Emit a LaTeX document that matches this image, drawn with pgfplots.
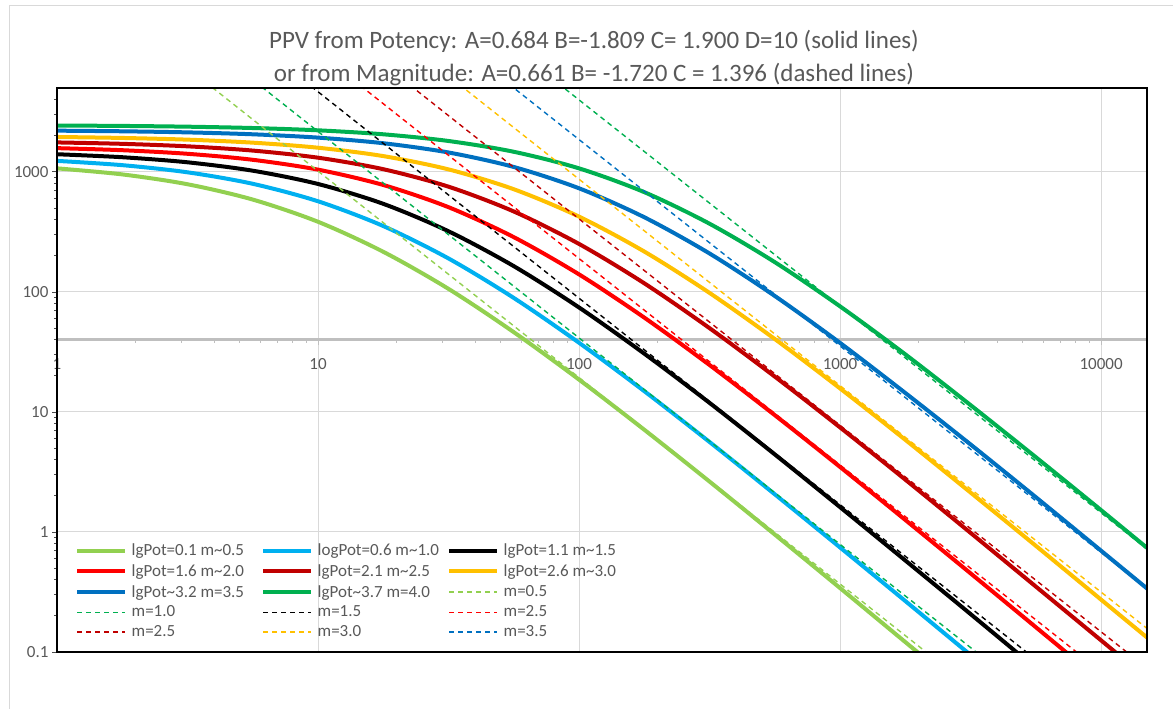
\documentclass[border=0pt]{standalone}
\usepackage{fontspec}
\setmainfont{Carlito}
\usepackage{pgfplots}
\pgfplotsset{compat=1.18}
\definecolor{txtgray}{HTML}{595959}
\definecolor{gridgray}{HTML}{D9D9D9}
\definecolor{axgray}{HTML}{BFBFBF}
\definecolor{xlgreen}{HTML}{92D050}
\definecolor{xlblue}{HTML}{00B0F0}
\definecolor{xlred}{HTML}{FF0000}
\definecolor{xldred}{HTML}{C00000}
\definecolor{xlyellow}{HTML}{FFC000}
\definecolor{xldblue}{HTML}{0070C0}
\definecolor{xlgreen2}{HTML}{00B050}

\begin{document}
\begin{tikzpicture}
\useasboundingbox (-57pt,-57pt) rectangle (1116pt,652pt);
\draw[gridgray, line width=0.8pt] (-48pt,-57pt) -- (-48pt,647pt) -- (1116pt,647pt);
\begin{axis}[
  scale only axis, width=1090pt, height=564pt,
  xmode=log, ymode=log,
  xmin=1, xmax=15000, ymin=0.1, ymax=5000,
  axis x line*=bottom, axis y line*=left,
  axis x line shift=-312pt,
  x axis line style={axgray, line width=3pt},
  y axis line style={black, line width=2pt},
  xtick={1,10,100,1000,10000}, xticklabels={1,10,100,1000,10000},
  ytick={0.1,1,10,100,1000}, yticklabels={0.1,1,10,100,1000},
  minor xtick={2,3,...,9,20,30,...,90,200,300,...,900,2000,3000,...,9000},
  minor ytick={0.2,0.3,0.4,0.5,0.6,0.7,0.8,0.9,2,3,...,9,20,30,...,90,200,300,...,900,2000,3000,4000},
  tick align=outside,
  major tick length=5pt, minor tick length=3pt,
  x tick style={axgray, line width=1pt},
  y tick style={black!70, line width=0.8pt},
  grid=major, major grid style={gridgray, line width=1pt},
  tick label style={font=\fontsize{17}{19}\selectfont, text=txtgray},
  xticklabel style={yshift=-10pt},
  legend columns=3,
  legend cell align=left,
  legend style={draw=none, fill=none, at={(axis description cs:0,0)}, anchor=south west,
    xshift=18pt, yshift=12pt, font=\fontsize{17}{19}\selectfont, text=txtgray,
    row sep=4.3pt, inner sep=0pt, nodes={inner sep=1.5pt}},
  legend image code/.code={\draw[#1] (0pt,0pt) -- (48pt,0pt); \path (51pt,0pt);},
]
% solid: PPV from potency
\addplot[xlgreen, line width=4pt, smooth] coordinates {(1,1070) (1.778,953) (3.162,789) (5.623,588) (10,384) (17.78,216) (31.62,106) (56.23,46.2) (100,18.6) (177.8,7.11) (316.2,2.63) (562.3,0.952) (1000,0.341) (1778,0.121) (3162,0.0431)};
\addlegendentry{\makebox[128pt][l]{lgPot=0.1 m\textasciitilde0.5}}
\addplot[xlblue, line width=4pt, smooth] coordinates {(1,1235) (1.778,1138) (3.162,992) (5.623,796) (10,569) (17.78,354) (31.62,190) (56.23,89.1) (100,37.7) (177.8,14.9) (316.2,5.62) (562.3,2.06) (1000,0.743) (1778,0.266) (3162,0.0944) (5623,0.0335)};
\addlegendentry{\makebox[128pt][l]{logPot=0.6 m\textasciitilde1.0}}
\addplot[black, line width=4pt, smooth] coordinates {(1,1403) (1.778,1325) (3.162,1202) (5.623,1023) (10,793) (17.78,542) (31.62,320) (56.23,164) (100,74.2) (177.8,30.6) (316.2,11.9) (562.3,4.43) (1000,1.61) (1778,0.579) (3162,0.207) (5623,0.0733)};
\addlegendentry{lgPot=1.1 m\textasciitilde1.5}
\addplot[xlred, line width=4pt, smooth] coordinates {(1,1577) (1.778,1516) (3.162,1415) (5.623,1261) (10,1044) (17.78,778) (31.62,508) (56.23,286) (100,140) (177.8,61.1) (316.2,24.6) (562.3,9.40) (1000,3.48) (1778,1.26) (3162,0.452) (5623,0.161) (10000,0.0570)};
\addlegendentry{\makebox[128pt][l]{lgPot=1.6 m\textasciitilde2.0}}
\addplot[xldred, line width=4pt, smooth] coordinates {(1,1760) (1.778,1713) (3.162,1633) (5.623,1505) (10,1313) (17.78,1053) (31.62,753) (56.23,468) (100,251) (177.8,118) (316.2,49.9) (562.3,19.7) (1000,7.43) (1778,2.73) (3162,0.983) (5623,0.351) (10000,0.125) (15000,0.0602)};
\addlegendentry{\makebox[128pt][l]{lgPot=2.1 m\textasciitilde2.5}}
\addplot[xlyellow, line width=4pt, smooth] coordinates {(1,1954) (1.778,1918) (3.162,1856) (5.623,1752) (10,1590) (17.78,1354) (31.62,1049) (56.23,717) (100,424) (177.8,217) (316.2,98.1) (562.3,40.5) (1000,15.7) (1778,5.86) (3162,2.13) (5623,0.767) (10000,0.273) (15000,0.132)};
\addlegendentry{lgPot=2.6 m\textasciitilde3.0}
\addplot[xldblue, line width=4pt, smooth] coordinates {(1,2205) (1.778,2179) (3.162,2134) (5.623,2057) (10,1930) (17.78,1733) (31.62,1451) (56.23,1099) (100,730) (177.8,419) (316.2,209) (562.3,92.5) (1000,37.6) (1778,14.4) (3162,5.36) (5623,1.95) (10000,0.698) (15000,0.338)};
\addlegendentry{\makebox[128pt][l]{lgPot\textasciitilde3.2 m=3.5}}
\addplot[xlgreen2, line width=4pt, smooth] coordinates {(1,2434) (1.778,2415) (3.162,2380) (5.623,2320) (10,2220) (17.78,2057) (31.62,1809) (56.23,1471) (100,1070) (177.8,678) (316.2,370) (562.3,177) (1000,75.8) (1778,30.2) (3162,11.4) (5623,4.20) (10000,1.52) (15000,0.737)};
\addlegendentry{\makebox[128pt][l]{lgPot\textasciitilde3.7 m=4.0}}
% dashed: PPV from magnitude
\addplot[xlgreen, line width=1.4pt, dash pattern=on 5pt off 4pt] coordinates {(1,53280) (15000,0.003497)};
\addlegendentry{m=0.5}
\addplot[xlgreen2, line width=1.4pt, dash pattern=on 5pt off 4pt] coordinates {(1,114000) (15000,0.007482)};
\addlegendentry{m=1.0}
\addplot[black, line width=1.4pt, dash pattern=on 5pt off 4pt] coordinates {(1,244100) (15000,0.01602)};
\addlegendentry{m=1.5}
\addplot[xlred, line width=1.4pt, dash pattern=on 5pt off 4pt] coordinates {(1,522400) (15000,0.03428)};
\addlegendentry{m=2.5}
\addplot[xldred, line width=1.4pt, dash pattern=on 5pt off 4pt] coordinates {(1,1118000) (15000,0.07337)};
\addlegendentry{m=2.5}
\addplot[xlyellow, line width=1.4pt, dash pattern=on 5pt off 4pt] coordinates {(1,2393000) (15000,0.1571)};
\addlegendentry{m=3.0}
\addplot[xldblue, line width=1.4pt, dash pattern=on 5pt off 4pt] coordinates {(1,5122000) (15000,0.3362)};
\addlegendentry{m=3.5}
\addplot[xlgreen2, line width=1.4pt, dash pattern=on 5pt off 4pt, forget plot] coordinates {(1,10960000) (15000,0.7196)};
\end{axis}
\draw[black, line width=2.5pt] (0pt,0pt) rectangle (1090pt,564pt);
\node[text=txtgray, font=\fontsize{25}{33}\selectfont, align=center] at (537pt,594pt)
  {PPV from Potency: A=0.684 B=-1.809 C= 1.900 D=10 (solid lines)\\or from Magnitude: A=0.661 B= -1.720 C = 1.396 (dashed lines)};
\end{tikzpicture}
\end{document}
